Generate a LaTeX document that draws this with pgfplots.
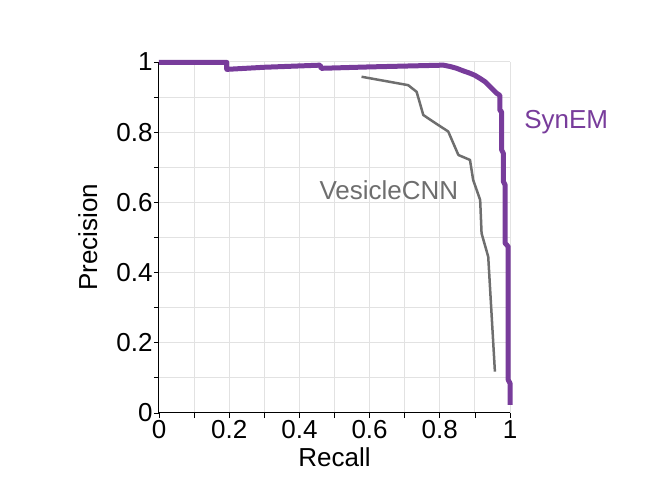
\documentclass[border=0pt]{standalone}
\usepackage{fontspec}
\setmainfont{Liberation Sans}
\usepackage{pgfplots}
\pgfplotsset{compat=1.18}
\definecolor{synem}{RGB}{120,60,155}
\definecolor{vcnn}{RGB}{110,110,110}
\definecolor{gridc}{RGB}{226,226,226}
\begin{document}
\begin{tikzpicture}[x=1pt,y=1pt]
\useasboundingbox (-159,-90) rectangle (497,413);
\begin{axis}[
  at={(0,0)}, anchor=south west,
  scale only axis, width=351pt, height=351pt,
  xmin=0, xmax=1, ymin=0, ymax=1,
  axis x line=bottom, axis y line=left,
  axis line style={-, black, line width=1pt},
  xtick={0,0.2,...,1}, ytick={0,0.2,...,1},
  minor xtick={0.1,0.3,0.5,0.7,0.9},
  minor ytick={0.1,0.3,0.5,0.7,0.9},
  xticklabels={0,0.2,0.4,0.6,0.8,1},
  yticklabels={0,0.2,0.4,0.6,0.8,1},
  tick align=outside,
  major tick length=5pt, minor tick length=5pt,
  tick style={black, line width=0.8pt},
  grid=both,
  major grid style={gridc, line width=1pt},
  minor grid style={gridc, line width=1pt},
  /pgf/number format/assume math mode=true,
  ticklabel style={font=\fontsize{26}{30}\selectfont},
  xticklabel style={yshift=1pt},
  yticklabel style={xshift=2pt},
  label style={font=\fontsize{26}{30}\selectfont},
  xlabel={Recall}, ylabel={Precision},
  xlabel style={yshift=-2pt},
  ylabel style={yshift=12pt},
  clip=false,
]
\addplot[vcnn, line width=2.5pt, line join=round] coordinates {
(0.577,0.958) (0.710,0.934) (0.734,0.915) (0.753,0.849) (0.781,0.830)
(0.824,0.802) (0.853,0.735) (0.886,0.721) (0.895,0.664) (0.915,0.607)
(0.919,0.512) (0.938,0.445) (0.957,0.118)
};
\addplot[synem, line width=5pt, line join=round] coordinates {
(0,0.999) (0.193,0.999) (0.193,0.979) (0.30,0.985) (0.459,0.991) (0.462,0.982)
(0.60,0.986) (0.81,0.991) (0.83,0.987) (0.848,0.982) (0.866,0.975) (0.886,0.968) (0.90,0.962) (0.915,0.953)
(0.93,0.943) (0.943,0.930) (0.955,0.918) (0.962,0.911) (0.971,0.905) (0.971,0.863) (0.976,0.858)
(0.976,0.75) (0.981,0.74) (0.981,0.66) (0.986,0.65) (0.986,0.484)
(0.995,0.474) (0.995,0.094) (1.0,0.085) (1.0,0.023)
};
\node[synem, font=\fontsize{26}{30}\selectfont] at (axis cs:1.160,0.829) {SynEM};
\node[vcnn, font=\fontsize{26}{30}\selectfont] at (axis cs:0.655,0.636) {VesicleCNN};
\end{axis}
\end{tikzpicture}
\end{document}
